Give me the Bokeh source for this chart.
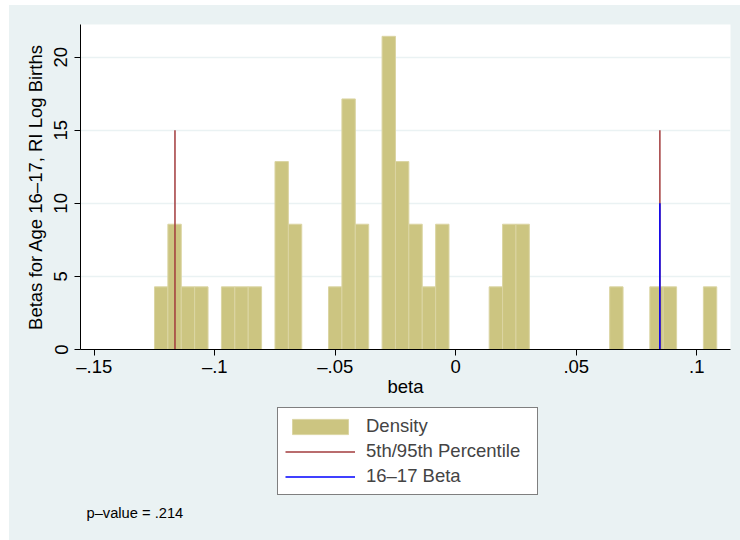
import numpy as np
from bokeh.plotting import figure
from bokeh.layouts import column
from bokeh.models import Range1d, FixedTicker, Legend, LegendItem, Label
from bokeh.embed import file_html
from bokeh.resources import INLINE

# Randomization-inference betas: counts in 42 equal-width bins
bin_lo = -0.1250
bin_hi = 0.1083
bin_counts = [1, 2, 1, 1, 0, 1, 1, 1, 0, 3,
              2, 0, 0, 1, 4, 2, 0, 5, 3, 2,
              1, 2, 0, 0, 0, 1, 2, 2, 0, 0,
              0, 0, 0, 0, 1, 0, 0, 1, 1, 0, 0, 1]

# Reference lines
pctl_5 = -0.1165
pctl_95 = 0.0847
beta_16_17 = 0.0847
pctl_line_top = 15
beta_line_top = 10
p_value = ".214"

x_ticks = [-0.15, -0.1, -0.05, 0, 0.05, 0.1]
x_tick_labels = ["\u2013.15", "\u2013.1", "\u2013.05", "0", ".05", ".1"]
y_ticks = [0, 5, 10, 15, 20]

FONT = "Liberation Sans"
BG = "#EAF2F3"
BAR_FILL = "#CCC581"
BAR_LINE = "#DBD5A3"
PCT_COLOR = "#A23B3C"
BETA_COLOR = "#0000FF"

counts = np.array(bin_counts, dtype=float)
edges = np.linspace(bin_lo, bin_hi, len(bin_counts) + 1)
width = edges[1] - edges[0]
density = counts / (counts.sum() * width)
keep = counts > 0

# --- histogram panel ---
p = figure(width=731, height=400,
           x_range=Range1d(-0.1557, 0.1140), y_range=Range1d(0, 22.24),
           output_backend="svg", toolbar_location=None,
           min_border_left=71, min_border_right=10,
           min_border_top=19, min_border_bottom=56,
           background_fill_color="white", border_fill_color=BG)
p.outline_line_color = None

p.quad(left=edges[:-1][keep], right=edges[1:][keep],
       bottom=0, top=density[keep],
       fill_color=BAR_FILL, line_color=BAR_LINE, line_width=1)

p.segment(x0=[pctl_5, pctl_95], x1=[pctl_5, pctl_95],
          y0=[0, 0], y1=[pctl_line_top, pctl_line_top],
          line_color=PCT_COLOR, line_width=1.5)
p.segment(x0=[beta_16_17], x1=[beta_16_17], y0=[0], y1=[beta_line_top],
          line_color=BETA_COLOR, line_width=1.5)

p.xgrid.grid_line_color = None
p.ygrid.grid_line_color = BG
p.ygrid.grid_line_width = 1.5

for ax in (p.xaxis[0], p.yaxis[0]):
    ax.axis_line_color = "black"
    ax.major_tick_line_color = "black"
    ax.minor_tick_line_color = None
    ax.major_tick_in = 0
    ax.major_tick_out = 6
    ax.major_label_text_font = FONT
    ax.major_label_text_font_size = "18.5px"
    ax.major_label_text_color = "black"
    ax.axis_label_text_font = FONT
    ax.axis_label_text_font_size = "18.5px"
    ax.axis_label_text_font_style = "normal"
    ax.axis_label_text_color = "black"

p.xaxis.ticker = FixedTicker(ticks=x_ticks)
p.xaxis.major_label_overrides = {t: s for t, s in zip(x_ticks, x_tick_labels)}
p.xaxis.axis_label = "beta"
p.xaxis.major_label_standoff = 0
p.xaxis.axis_label_standoff = -4

p.yaxis.ticker = FixedTicker(ticks=y_ticks)
p.yaxis.major_label_orientation = "vertical"
p.yaxis.axis_label = "Betas for Age 16\u201317, RI Log Births"
p.yaxis.major_label_standoff = 7
p.yaxis.axis_label_standoff = 6

# --- legend and note panel (frame is aligned with the histogram's frame) ---
q = figure(width=731, height=135, x_range=Range1d(0, 1), y_range=Range1d(0, 1),
           output_backend="svg", toolbar_location=None,
           x_axis_type=None, y_axis_type=None,
           min_border_left=71, min_border_right=10,
           min_border_top=0, min_border_bottom=0,
           background_fill_color=BG, border_fill_color=BG)
q.outline_line_color = None
q.xgrid.grid_line_color = None
q.ygrid.grid_line_color = None

# legend keys: glyphs placed outside the visible range, used only for their styles
k_bar = q.quad(left=[5], right=[6], bottom=[5], top=[6],
               fill_color=BAR_FILL, line_color=BAR_LINE, line_width=1)
k_pct = q.segment(x0=[5], x1=[6], y0=[5], y1=[6], line_color=PCT_COLOR, line_width=1.5)
k_beta = q.segment(x0=[5], x1=[6], y0=[5], y1=[6], line_color=BETA_COLOR, line_width=1.5)

legend = Legend(items=[LegendItem(label="Density", renderers=[k_bar]),
                       LegendItem(label="5th/95th Percentile", renderers=[k_pct]),
                       LegendItem(label="16\u201317 Beta", renderers=[k_beta])],
                location=(197, 45), margin=0,
                border_line_color="black", border_line_width=1,
                background_fill_color="white", background_fill_alpha=1,
                label_text_font=FONT, label_text_font_size="18.5px",
                glyph_width=70, glyph_height=19, label_height=20,
                label_width=164, label_standoff=11, padding=7, spacing=3)
q.add_layout(legend, "center")

q.add_layout(Label(x=6, y=28, x_units="screen", y_units="screen",
                   text="p\u2013value = " + p_value, text_baseline="middle",
                   text_font=FONT, text_font_size="14.7px", text_color="black"))

layout = column(p, q, spacing=0)
layout.margin = (5, 0, 0, 9)
layout.styles = {"background-color": BG}

open("out.html", "w").write(file_html(layout, INLINE))
